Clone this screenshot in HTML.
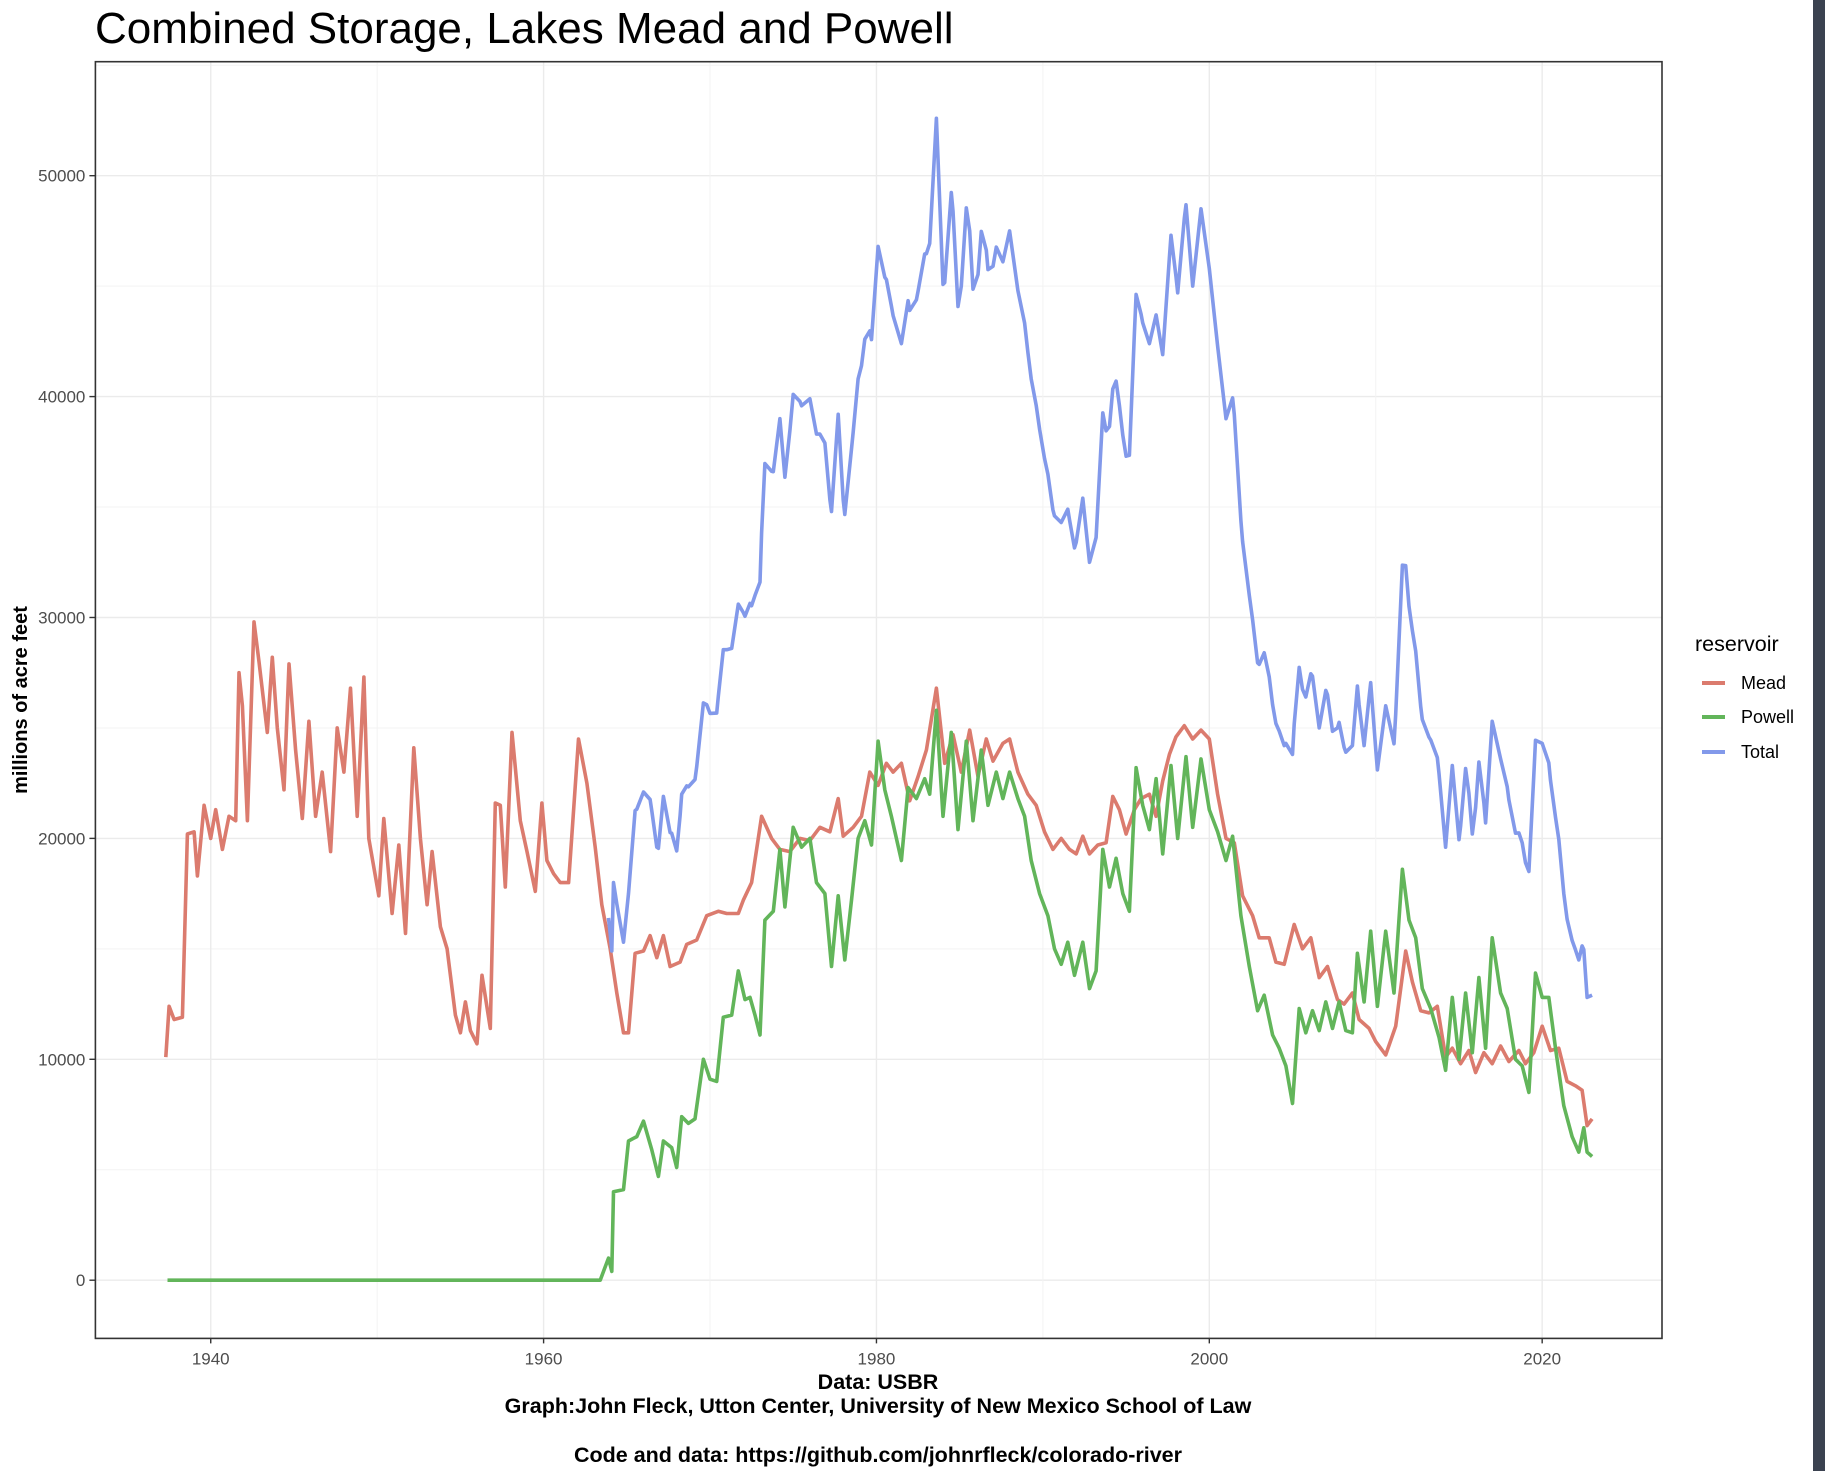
<!DOCTYPE html>
<html><head><meta charset="utf-8"><style>
html,body{margin:0;padding:0;background:#fff;}
svg{display:block;font-family:"Liberation Sans",Arial,sans-serif;}
</style></head><body>
<svg id="chart" width="1825" height="1471" viewBox="0 0 1825 1471" xmlns="http://www.w3.org/2000/svg">
<rect x="0" y="0" width="1825" height="1471" fill="#fff"/>
<rect x="1813" y="0" width="12" height="1471" fill="#3b4250"/>
<text x="95" y="43" font-size="44" fill="#000">Combined Storage, Lakes Mead and Powell</text>
<g id="grid"></g>
<g id="series"></g>
<rect x="95.4" y="61.7" width="1566.6" height="1276.7" fill="none" stroke="#333" stroke-width="1.6"/>
<g id="axes"></g>
<text transform="translate(27,700) rotate(-90)" text-anchor="middle" font-size="20" font-weight="bold" fill="#000">millions of acre feet</text>
<text x="878" y="1389" text-anchor="middle" font-size="21.5" font-weight="bold">Data: USBR</text>
<text x="878" y="1413" text-anchor="middle" font-size="21.5" font-weight="bold">Graph:John Fleck, Utton Center, University of New Mexico School of Law</text>
<text x="878" y="1462" text-anchor="middle" font-size="21.5" font-weight="bold">Code and data: https://github.com/johnrfleck/colorado-river</text>
<g>
<text x="1695" y="651" font-size="21.5" fill="#000">reservoir</text>
<g><line x1="1702" y1="683" x2="1725" y2="683" stroke="#db7b6e" stroke-width="4"/><text x="1741" y="689" font-size="18">Mead</text></g>
<g><line x1="1702" y1="717" x2="1725" y2="717" stroke="#62b55a" stroke-width="4"/><text x="1741" y="723" font-size="18">Powell</text></g>
<g><line x1="1702" y1="752" x2="1725" y2="752" stroke="#8299ea" stroke-width="4"/><text x="1741" y="758" font-size="18">Total</text></g>
</g>
</svg>
<script>
const xTicks = [1940, 1960, 1980, 2000, 2020];
const yTicks = [0, 10000, 20000, 30000, 40000, 50000];
const meadYears = [1937.3,1937.5,1937.8,1938.3,1938.6,1939.0,1939.2,1939.6,1940.0,1940.3,1940.7,1941.1,1941.5,1941.7,1941.9,1942.2,1942.6,1942.9,1943.4,1943.7,1944.0,1944.4,1944.7,1945.1,1945.5,1945.9,1946.3,1946.7,1947.2,1947.6,1948.0,1948.4,1948.8,1949.2,1949.5,1950.1,1950.4,1950.9,1951.3,1951.7,1952.2,1952.6,1953.0,1953.3,1953.8,1954.2,1954.7,1955.0,1955.3,1955.6,1956.0,1956.3,1956.8,1957.1,1957.4,1957.7,1958.1,1958.6,1959.0,1959.5,1959.9,1960.2,1960.6,1961.0,1961.5,1962.1,1962.6,1963.1,1963.5,1964.0,1964.4,1964.8,1965.1,1965.5,1966.0,1966.4,1966.8,1967.2,1967.6,1968.2,1968.6,1969.2,1969.8,1970.5,1971.0,1971.7,1972.0,1972.5,1973.1,1973.7,1974.2,1974.8,1975.4,1976.0,1976.6,1977.2,1977.7,1978.0,1978.6,1979.1,1979.6,1980.1,1980.6,1981.0,1981.5,1982.0,1982.5,1983.0,1983.6,1984.1,1984.6,1985.1,1985.6,1986.1,1986.6,1987.0,1987.6,1988.0,1988.5,1989.1,1989.6,1990.1,1990.6,1991.1,1991.6,1992.0,1992.4,1992.8,1993.3,1993.8,1994.2,1994.6,1995.0,1995.5,1995.9,1996.4,1996.8,1997.2,1997.6,1998.0,1998.5,1999.0,1999.5,2000.0,2000.5,2001.0,2001.5,2002.0,2002.6,2003.0,2003.6,2004.0,2004.5,2005.1,2005.6,2006.1,2006.6,2007.1,2007.7,2008.1,2008.6,2009.0,2009.6,2010.0,2010.6,2011.2,2011.8,2012.2,2012.7,2013.2,2013.7,2014.2,2014.6,2015.1,2015.6,2016.0,2016.5,2017.0,2017.5,2018.0,2018.6,2019.0,2019.5,2020.0,2020.5,2021.0,2021.5,2022.0,2022.4,2022.7,2023.0];
const meadValues = [10100,12400,11800,11900,20200,20300,18300,21500,20000,21300,19500,21000,20800,27500,26000,20800,29800,28000,24800,28200,25000,22200,27900,24000,20900,25300,21000,23000,19400,25000,23000,26800,21000,27300,20000,17400,20900,16600,19700,15700,24100,20000,17000,19400,16000,15000,12000,11200,12600,11300,10700,13800,11400,21600,21500,17800,24800,20800,19400,17600,21600,19000,18400,18000,18000,24500,22500,19600,17000,15000,13000,11200,11200,14800,14900,15600,14600,15600,14200,14400,15200,15400,16500,16700,16600,16600,17200,18000,21000,20000,19500,19400,20000,19900,20500,20300,21800,20100,20500,21000,23000,22400,23400,23000,23400,21700,22800,24000,26800,23400,24700,23000,24900,22800,24500,23500,24300,24500,23000,22000,21500,20300,19500,20000,19500,19300,20100,19300,19700,19800,21900,21300,20200,21300,21800,22000,21000,22600,23800,24600,25100,24500,24900,24500,22000,20000,19800,17400,16500,15500,15500,14400,14300,16100,15000,15500,13700,14200,12700,12500,13000,11800,11400,10800,10200,11500,14900,13500,12200,12100,12400,10100,10500,9800,10400,9400,10300,9800,10600,9900,10400,9800,10300,11500,10400,10500,9000,8800,8600,7000,7300];
const powellYears = [1937.4,1963.4,1963.9,1964.1,1964.2,1964.8,1965.1,1965.6,1966.0,1966.5,1966.9,1967.2,1967.7,1968.0,1968.3,1968.7,1969.1,1969.6,1970.0,1970.4,1970.8,1971.3,1971.7,1972.1,1972.4,1972.7,1973.0,1973.3,1973.8,1974.2,1974.5,1975.0,1975.5,1976.0,1976.4,1976.9,1977.3,1977.7,1978.1,1978.5,1978.9,1979.3,1979.7,1980.1,1980.5,1980.9,1981.5,1981.9,1982.4,1982.9,1983.2,1983.6,1984.0,1984.5,1984.9,1985.4,1985.8,1986.3,1986.7,1987.2,1987.6,1988.0,1988.5,1988.9,1989.3,1989.8,1990.3,1990.7,1991.1,1991.5,1991.9,1992.4,1992.8,1993.2,1993.6,1994.0,1994.4,1994.8,1995.2,1995.6,1996.0,1996.4,1996.8,1997.2,1997.7,1998.1,1998.6,1999.0,1999.5,2000.0,2000.5,2001.0,2001.4,2001.9,2002.4,2002.9,2003.3,2003.8,2004.2,2004.6,2005.0,2005.4,2005.8,2006.2,2006.6,2007.0,2007.4,2007.8,2008.2,2008.6,2008.9,2009.3,2009.7,2010.1,2010.6,2011.1,2011.6,2012.0,2012.4,2012.8,2013.3,2013.8,2014.2,2014.6,2015.0,2015.4,2015.8,2016.2,2016.6,2017.0,2017.5,2017.9,2018.4,2018.8,2019.2,2019.6,2020.0,2020.4,2020.8,2021.3,2021.8,2022.2,2022.5,2022.7,2023.0];
const powellValues = [0,0,1000,400,4000,4100,6300,6500,7200,5900,4700,6300,6000,5100,7400,7100,7300,10000,9100,9000,11900,12000,14000,12700,12800,12000,11100,16300,16700,19500,16900,20500,19600,20000,18000,17500,14200,17400,14500,17200,20000,20800,19700,24400,22200,21000,19000,22300,21800,22700,22000,25800,21000,24800,20400,24400,20800,24000,21500,23000,21800,23000,21800,21000,19000,17500,16500,15000,14300,15300,13800,15300,13200,14000,19500,17800,19100,17500,16700,23200,21500,20400,22700,19300,23300,20000,23700,20500,23600,21300,20300,19000,20100,16500,14200,12200,12900,11100,10500,9700,8000,12300,11200,12200,11300,12600,11400,12600,11300,11200,14800,12600,15800,12400,15800,13000,18600,16300,15500,13200,12300,11000,9500,12800,10000,13000,10300,13700,10500,15500,13000,12300,10000,9700,8500,13900,12800,12800,10500,7900,6500,5800,6900,5800,5600];
const totalStartYear = 1963.7;

const NS = 'http://www.w3.org/2000/svg';
const L = 95.4, R = 1662, T = 61.7, B = 1338.4;
const xMin = 1933.07, xMax = 2027.2, yMin = -2635, yMax = 55160;
const xs = v => L + (v - xMin) / (xMax - xMin) * (R - L);
const ys = v => B - (v - yMin) / (yMax - yMin) * (B - T);
function mk(tag, attrs, parent) { const e = document.createElementNS(NS, tag); for (const k in attrs) e.setAttribute(k, attrs[k]); parent.appendChild(e); return e; }
const grid = document.getElementById('grid'), axes = document.getElementById('axes'), series = document.getElementById('series');

for (let i = 0; i < yTicks.length; i++) {
  const v = yTicks[i];
  const g = mk('line', {x1: L, x2: R, y1: ys(v), y2: ys(v), stroke: '#ebebeb', 'stroke-width': 1.4}, grid);
  
  
  if (ys(v + 5000) > T) {
    const m = mk('line', {x1: L, x2: R, y1: ys(v + 5000), y2: ys(v + 5000), stroke: '#f3f3f3', 'stroke-width': 1}, grid);
    
    
  }
  const t = mk('line', {x1: L - 6, x2: L, y1: ys(v), y2: ys(v), stroke: '#333', 'stroke-width': 1.4}, axes);
  
  
  const lb = mk('text', {x: L - 10, y: ys(v) + 6, 'text-anchor': 'end', 'font-size': 17, fill: '#4d4d4d'}, axes);
  lb.textContent = String(v);
  
  
}
for (let i = 0; i < xTicks.length; i++) {
  const v = xTicks[i];
  const g = mk('line', {x1: xs(v), x2: xs(v), y1: T, y2: B, stroke: '#ebebeb', 'stroke-width': 1.4}, grid);
  
  
  if (xs(v + 10) < R) {
    const m = mk('line', {x1: xs(v + 10), x2: xs(v + 10), y1: T, y2: B, stroke: '#f3f3f3', 'stroke-width': 1}, grid);
    
    
  }
  const t = mk('line', {x1: xs(v), x2: xs(v), y1: B, y2: B + 5, stroke: '#333', 'stroke-width': 1.4}, axes);
  
  
  const lb = mk('text', {x: xs(v), y: B + 26, 'text-anchor': 'middle', 'font-size': 17, fill: '#4d4d4d'}, axes);
  lb.textContent = String(v);
  
  
}

function interp(xa, va, x) {
  if (x <= xa[0]) return va[0];
  if (x >= xa[xa.length - 1]) return va[va.length - 1];
  for (let i = 1; i < xa.length; i++) if (xa[i] >= x) { const f = (x - xa[i - 1]) / (xa[i] - xa[i - 1]); return va[i - 1] + f * (va[i] - va[i - 1]); }
}
function linePath(xa, va) {
  let d = '';
  for (let i = 0; i < xa.length; i++) d += (i ? 'L' : 'M') + xs(xa[i]).toFixed(1) + ',' + ys(va[i]).toFixed(1);
  return d;
}
// total = Mead + Powell sampled at the union of observation years
const tYears = [...new Set(meadYears.concat(powellYears))].filter(y => y >= totalStartYear && y <= 2023.0).sort((a, b) => a - b);
const tVals = tYears.map(y => interp(meadYears, meadValues, y) + interp(powellYears, powellValues, y));

const pm = mk('path', {d: linePath(meadYears, meadValues), fill: 'none', stroke: '#db7b6e', 'stroke-width': 3.6, 'stroke-linejoin': 'round'}, series);


const pp = mk('path', {d: linePath(powellYears, powellValues), fill: 'none', stroke: '#62b55a', 'stroke-width': 3.6, 'stroke-linejoin': 'round'}, series);


const pt = mk('path', {d: linePath(tYears, tVals), fill: 'none', stroke: '#8299ea', 'stroke-width': 3.6, 'stroke-linejoin': 'round'}, series);


</script>
</body></html>
